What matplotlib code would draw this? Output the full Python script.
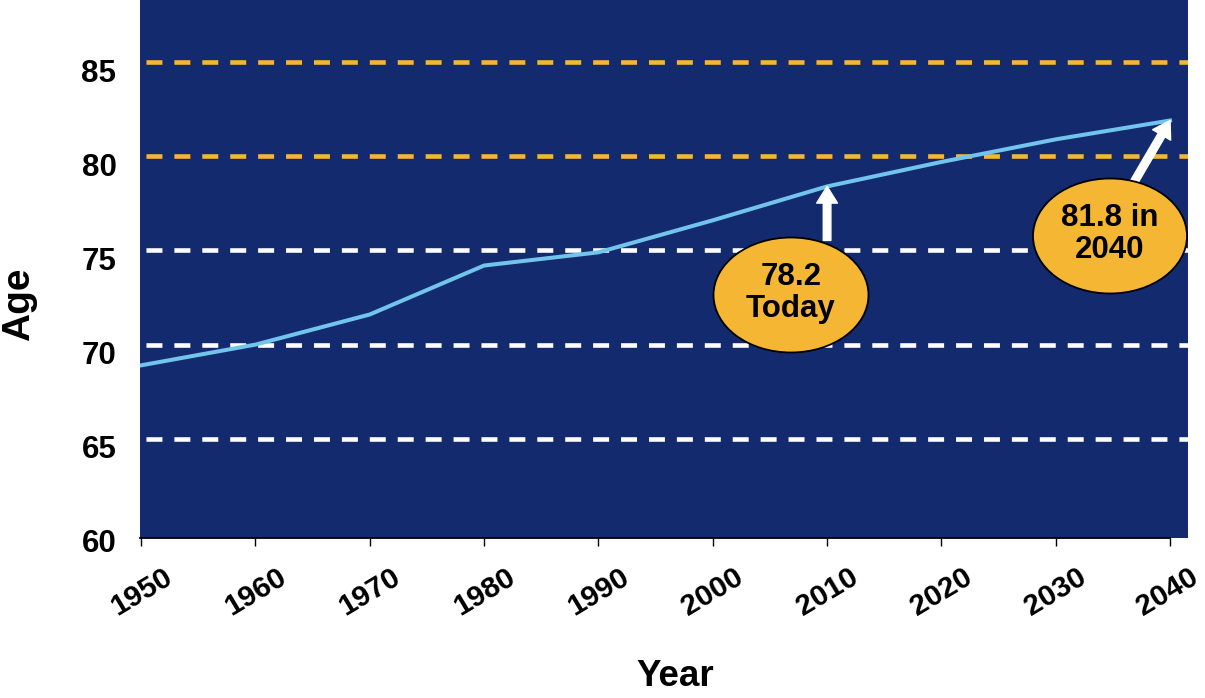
import matplotlib
matplotlib.use("Agg")
import matplotlib.pyplot as plt
from matplotlib.patches import Ellipse
from matplotlib.transforms import ScaledTranslation
from matplotlib.ticker import FixedLocator

# ---- data ----
years = [1950, 1960, 1970, 1980, 1990, 2000, 2010, 2020, 2030, 2040]
age = [68.9, 70.0, 71.6, 74.2, 74.9, 76.6, 78.4, 79.7, 80.9, 81.9]
y_ticks = [60, 65, 70, 75, 80, 85]
white_refs = [65, 70, 75]
orange_refs = [80, 85]
note_today = "78.2\nToday"
note_2040 = "81.8 in\n2040"
x_label = "Year"
y_label = "Age"

NAVY = "#142a6e"
ORANGE = "#f4b633"
LIGHT = "#71c4ec"

plt.rcParams['font.family'] = ['Liberation Sans', 'DejaVu Sans']
plt.rcParams['font.weight'] = 'bold'
plt.rcParams['lines.scale_dashes'] = False

W, H = 1205, 698
fig = plt.figure(figsize=(W / 100, H / 100), dpi=100)
fig.patch.set_facecolor('white')

L, R, T, B = 140, 1188, 0, 538
ax = fig.add_axes([L / W, 1 - B / H, (R - L) / W, (B - T) / H])
ax.set_facecolor(NAVY)

ax.set_xlim(1949.9, 2041.57)
ax.set_ylim(59.73, 88.3)

dash = (15.8, (11.5, 8.6))
for v in white_refs:
    ax.axhline(v, color='white', lw=3.3, linestyle=dash, zorder=1)
for v in orange_refs:
    ax.axhline(v, color=ORANGE, lw=3.3, linestyle=dash, zorder=1)

ax.plot(years, age, color=LIGHT, lw=2.9, zorder=3, solid_joinstyle='round')

for s in ['top', 'right', 'left']:
    ax.spines[s].set_visible(False)
ax.spines['bottom'].set_bounds(1949.9, 2040)
ax.spines['bottom'].set_linewidth(1.3)

ax.set_xticks(years)
ax.set_xticklabels([str(y) for y in years], rotation=31, ha='center',
                   fontsize=21.5, fontweight='bold')
ax.tick_params(axis='x', direction='out', length=6, width=1, pad=12)
xlabs = ax.get_xticklabels()
xlabs[-1].set_transform(xlabs[-1].get_transform() + ScaledTranslation(-3 / 100, 0, fig.dpi_scale_trans))

ax.set_yticks(y_ticks)
ax.set_yticklabels([str(v) for v in y_ticks], fontsize=22.5, fontweight='bold')
ax.tick_params(axis='y', length=0, pad=17)
ax.yaxis.set_minor_locator(FixedLocator([60]))
ax.tick_params(axis='y', which='minor', length=5, width=1, direction='out')
for lab in ax.get_yticklabels():
    lab.set_transform(lab.get_transform() + ScaledTranslation(0, -8 / 100, fig.dpi_scale_trans))

fig.text(19 / W, 1 - 304 / H, y_label, rotation=90, ha='center', va='center',
         fontsize=28, fontweight='bold')
fig.text(675 / W, 1 - 676 / H, x_label, ha='center', va='center',
         fontsize=26.5, fontweight='bold')

# annotations
def bubble(cx, cy, w, h, text):
    e = Ellipse((cx / W, 1 - cy / H), w / W, h / H, transform=fig.transFigure,
                facecolor=ORANGE, edgecolor='black', lw=1.3, zorder=5)
    fig.patches.append(e)
    fig.text(cx / W, 1 - (cy - 2) / H, text, ha='center', va='center',
             fontsize=22.5, fontweight='bold', linespacing=1.05, zorder=6)

arrow_style = 'simple,head_length=1.2,head_width=1.5,tail_width=0.55'
ax.annotate('', xy=(years[6], age[6]), xycoords='data',
            xytext=(0, -54), textcoords='offset pixels',
            arrowprops=dict(arrowstyle=arrow_style, mutation_scale=10,
                            color='white', shrinkA=0, shrinkB=0), zorder=4)
ax.annotate('', xy=(years[9], age[9]), xycoords='data',
            xytext=(-38, -65), textcoords='offset pixels',
            arrowprops=dict(arrowstyle=arrow_style, mutation_scale=10,
                            color='white', shrinkA=0, shrinkB=0), zorder=4)

bubble(791, 295, 155, 115, note_today)
bubble(1110, 236, 154, 115, note_2040)

fig.savefig('out.png', dpi=100)
